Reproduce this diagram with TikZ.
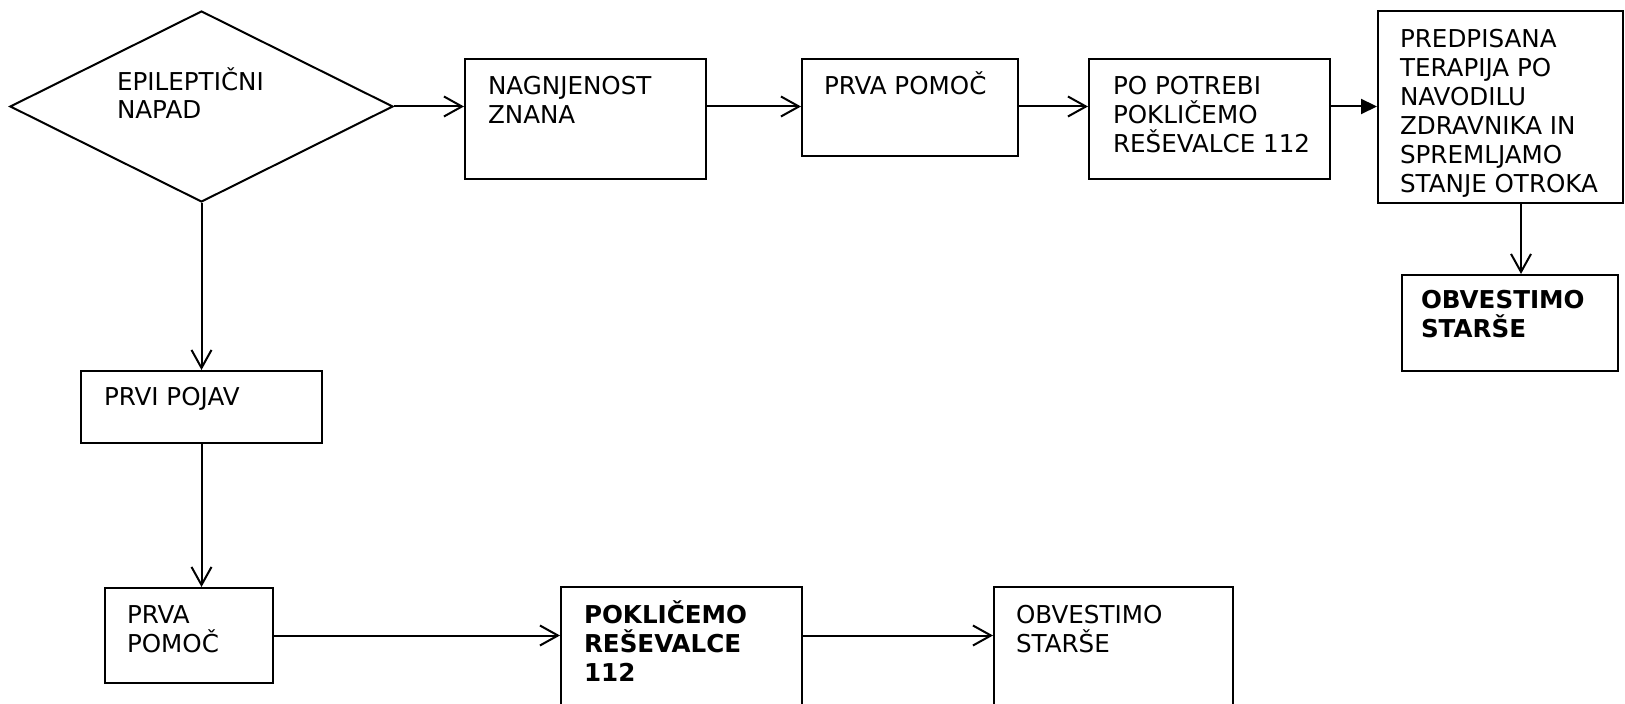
\documentclass[tikz,border=0pt]{standalone}
\usepackage{fontspec}
\setmainfont{DejaVu Sans}
\usetikzlibrary{arrows.meta,shapes.geometric}
\newcommand\fr{\rule{0pt}{12pt}}
\begin{document}
\begin{tikzpicture}[x=0.5pt,y=-0.5pt, line width=1pt,
  box/.style={draw, rectangle, inner sep=0pt},
  txt/.style={anchor=north west, inner sep=0pt, align=left,
    font=\fontsize{12.3pt}{14.5pt}\selectfont},
  btxt/.style={txt, font=\fontsize{12.3pt}{14.5pt}\selectfont\bfseries},
  dtxt/.style={txt, font=\fontsize{12.3pt}{14pt}\selectfont},
  arr/.style={-{Straight Barb[length=9pt,width=10pt]}},
  farr/.style={-{Triangle[length=8pt,width=7.5pt]}}]
\useasboundingbox (0,0) rectangle (1625,704);

% shapes
\node[diamond, draw, inner sep=0pt, minimum width=191.5pt, minimum height=95.5pt] (d) at (201.5,106.5) {};
\node[box, minimum width=120.5pt, minimum height=60pt] (n1) at (585.5,119) {};
\node[box, minimum width=108pt, minimum height=48.5pt] (n2) at (910,107.5) {};
\node[box, minimum width=120.5pt, minimum height=60pt] (n3) at (1209.5,119) {};
\node[box, minimum width=122.5pt, minimum height=96pt] (n4) at (1500.5,107) {};
\node[box, minimum width=108pt, minimum height=48pt] (b2) at (1510,323) {};
\node[box, minimum width=120.5pt, minimum height=36pt] (p1) at (201.5,407) {};
\node[box, minimum width=84pt, minimum height=47.5pt] (p2) at (189,635.5) {};
\node[box, minimum width=120.5pt, minimum height=71.5pt] (p3) at (681.5,658.5) {};
\node[box, minimum width=119.5pt, minimum height=71.5pt] (p4) at (1113.5,658.5) {};

% texts
\node[dtxt] (td) at (116,66) {\fr EPILEPTIČNI\\NAPAD};
\node[txt] (t1) at (487,70) {\fr NAGNJENOST\\ZNANA};
\node[txt] (t2) at (823,70) {\fr PRVA POMOČ};
\node[txt] (t3) at (1112,70) {\fr PO POTREBI\\POKLIČEMO\\REŠEVALCE 112};
\node[txt] (t4) at (1399,23) {\fr PREDPISANA\\TERAPIJA PO\\NAVODILU\\ZDRAVNIKA IN\\SPREMLJAMO\\STANJE OTROKA};
\node[btxt] (tb2) at (1420,284) {\fr OBVESTIMO\\STARŠE};
\node[txt] (tp1) at (103,381) {\fr PRVI POJAV};
\node[txt] (tp2) at (126,598) {\fr PRVA\\POMOČ};
\node[btxt] (tp3) at (583,598) {\fr POKLIČEMO\\REŠEVALCE\\112};
\node[txt] (tp4) at (1015,598) {\fr OBVESTIMO\\STARŠE};

% connectors
\coordinate (a4) at (1521,203);
\draw[arr] (d.east) -- (n1.west |- d.east);
\draw[arr] (n1.east |- d.east) -- (n2.west |- d.east);
\draw[arr] (n2.east |- d.east) -- (n3.west |- d.east);
\draw[farr] (n3.east |- d.east) -- (n4.west |- d.east);
\draw[arr] (a4) -- (a4 |- b2.north);
\draw[arr] (d.south) -- (p1.north);
\draw[arr] (p1.south) -- (p1.south |- p2.north);
\draw[arr] (p2.east) -- (p3.west |- p2.east);
\draw[arr] (p3.east |- p2.east) -- (p4.west |- p2.east);
\end{tikzpicture}
\end{document}
